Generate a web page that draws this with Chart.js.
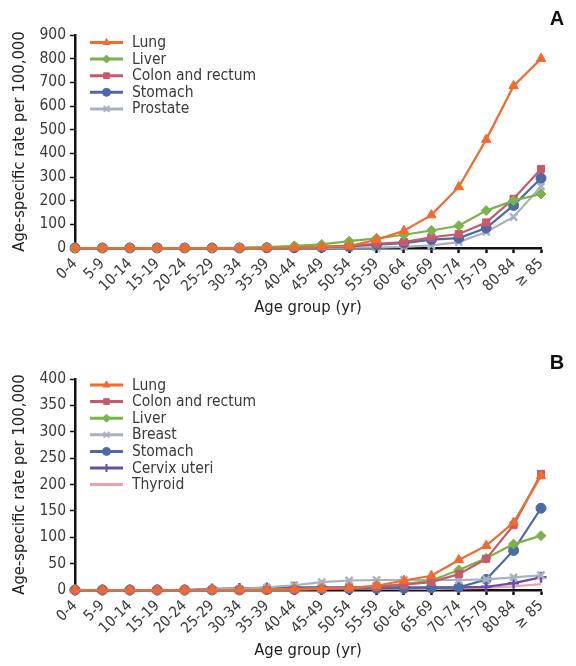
<!DOCTYPE html>
<html><head><meta charset="utf-8">
<script src="https://cdn.jsdelivr.net/npm/chart.js@4/dist/chart.umd.min.js"></script>
<style>
html,body{margin:0;padding:0;background:#fff;}
#wrap{position:relative;width:576px;height:666px;}
canvas{display:block;}
</style></head>
<body><div id="wrap"><canvas id="cA" width="576" height="333"></canvas><canvas id="cB" width="576" height="333"></canvas></div>
<script>
const ageGroups = ['0-4','5-9','10-14','15-19','20-24','25-29','30-34','35-39','40-44','45-49','50-54','55-59','60-64','65-69','70-74','75-79','80-84','\u2265 85'];

// Panel A
const lungA     = [0,0,0,0,0,0,0,1,2,5,8,35,73,139,258,458,685,800];
const liverA    = [0,0,0,0,0,0,1,4,9,15,29,41,56,74,94,158,200,228];
const colonA    = [0,0,0,0,0,0,0,1,2,5,10,18,25,45,59,108,208,334];
const stomachA  = [0,0,0,0,0,0,0,1,1,3,7,14,21,35,42,84,180,295];
const prostateA = [0,0,0,0,0,0,0,0,0,0,1,2,5,11,25,68,131,260];
const ticksA    = [0,100,200,300,400,500,600,700,800,900];

// Panel B
const lungB     = [0,0,0,0,0,0,0,0,1,2,4,8,18,27,57,84,128,216];
const colonB    = [0,0,0,0,0,0,0,0,1,2,4,6,10,15,30,59,123,220];
const liverB    = [0,0,0,0,0,0,0,1,2,3,4,7,11,18,38,60,87,103];
const breastB   = [0,0,0,0,0,1,2,5,9,15,18,19,19,19,19,20,24,28];
const stomachB  = [0,0,0,0,0,0,0,1,1,2,2,3,3,4,5,20,75,155];
const cervixB   = [0,0,0,0,0,2,3,4,5,5,5,5,5,5,5,6,13,24];
const thyroidB  = [0,0,0,0,0,1,1,2,2,2,2,2,2,2,3,4,7,11];
const ticksB    = [0,50,100,150,200,250,300,350,400];

const C = {lung:'#f26a2c', liver:'#7bb34b', colon:'#c65a6b', stomach:'#4b6ba7', grey:'#a9b1c0', cervix:'#6a4ca5', thyroid:'#e9a3a9'};
const FONT = "'DejaVu Sans Condensed','Liberation Sans Narrow',sans-serif";
const TXT = '#3a3a3a';

function ds(label, data, color, style, radius){
  return {label, data, borderColor:color, backgroundColor:color, pointStyle:style,
    pointRadius: style===false?0:radius, pointBorderWidth: style==='crossRot'||style==='cross'?2.5:1,
    borderWidth:2.2, tension:0, clip:false};
}

const legendPlugin = {
  id:'inlegend',
  afterDraw(chart, args, opts){
    const ctx = chart.ctx;
    ctx.save();
    chart.data.datasets.forEach((d,i)=>{
      const y = opts.y0 + i*opts.dy;
      ctx.strokeStyle = d.borderColor; ctx.lineWidth = 3;
      ctx.beginPath(); ctx.moveTo(90,y); ctx.lineTo(123,y); ctx.stroke();
      if (d.pointStyle !== false){
        ctx.fillStyle = d.backgroundColor; ctx.strokeStyle = d.borderColor; ctx.lineWidth = d.pointStyle==='crossRot'||d.pointStyle==='cross'?2:1;
        Chart.helpers.drawPoint(ctx, {pointStyle:d.pointStyle, radius:4, rotation:0, borderWidth:ctx.lineWidth}, 106.5, y);
      }
      ctx.fillStyle = TXT; ctx.font = '15.5px '+FONT; ctx.textBaseline='middle'; ctx.textAlign='left';
      ctx.fillText(d.label, 132, y+0.5);
    });
    ctx.font = "bold 20px 'Liberation Sans','DejaVu Sans',sans-serif";
    ctx.fillStyle = '#111'; ctx.textAlign='center';
    ctx.fillText(opts.letter, 557, opts.letterY);
    ctx.restore();
  }
};

function makeChart(id, datasets, ticks, maxY, topPad, xHeight, titleBottom, legendY0, letter, letterY){
  new Chart(document.getElementById(id), {
    type:'line',
    data:{labels:ageGroups, datasets},
    options:{
      responsive:false, animation:false, devicePixelRatio:1,
      layout:{padding:{top:topPad, right:35, left:0, bottom:0}},
      plugins:{legend:{display:false}, tooltip:{enabled:false},
        inlegend:{y0:legendY0, dy:16.6, letter, letterY}},
      scales:{
        x:{ offset:false,
          grid:{display:true, drawOnChartArea:false, drawTicks:true, tickLength:5, tickWidth:2.5, color:'#111'},
          border:{display:true, color:'#111', width:2.5},
          ticks:{color:TXT, font:{family:FONT, size:15}, minRotation:45, maxRotation:45, padding:2, autoSkip:false},
          title:{display:true, text:'Age group (yr)', color:'#222', font:{family:FONT, size:16.5}, padding:{top:0,bottom:titleBottom}},
          afterFit(s){ s.height = xHeight; s.paddingLeft = 0; s.paddingRight = 0; }
        },
        y:{ min:0, max:maxY,
          afterBuildTicks(s){ s.ticks = ticks.map(v=>({value:v})); },
          grid:{display:true, drawOnChartArea:false, drawTicks:true, tickLength:5, tickWidth:1.5, color:'#111'},
          border:{display:true, color:'#111', width:2.5},
          ticks:{color:TXT, font:{family:FONT, size:15.5}, padding:4},
          title:{display:true, text:'Age-specific rate per 100,000', color:'#222', font:{family:FONT, size:16.5}, padding:{top:10,bottom:0}},
          afterFit(s){ s.width = 75; s.paddingTop = 0; s.paddingBottom = 0; }
        }
      }
    },
    plugins:[legendPlugin]
  });
}

makeChart('cA', [
  ds('Lung', lungA, C.lung, 'triangle', 5.5),
  ds('Liver', liverA, C.liver, 'rectRot', 5),
  ds('Colon and rectum', colonA, C.colon, 'rect', 5),
  ds('Stomach', stomachA, C.stomach, 'circle', 5),
  ds('Prostate', prostateA, C.grey, 'crossRot', 5)
], ticksA, 900, 35, 85, 15, 42.5, 'A', 19);

makeChart('cB', [
  ds('Lung', lungB, C.lung, 'triangle', 5.5),
  ds('Colon and rectum', colonB, C.colon, 'rect', 5),
  ds('Liver', liverB, C.liver, 'rectRot', 5),
  ds('Breast', breastB, C.grey, 'crossRot', 5),
  ds('Stomach', stomachB, C.stomach, 'circle', 5),
  ds('Cervix uteri', cervixB, C.cervix, 'cross', 5.5),
  ds('Thyroid', thyroidB, C.thyroid, false, 0)
], ticksB, 400, 46, 76, 5, 52, 'B', 30);
</script></body></html>
